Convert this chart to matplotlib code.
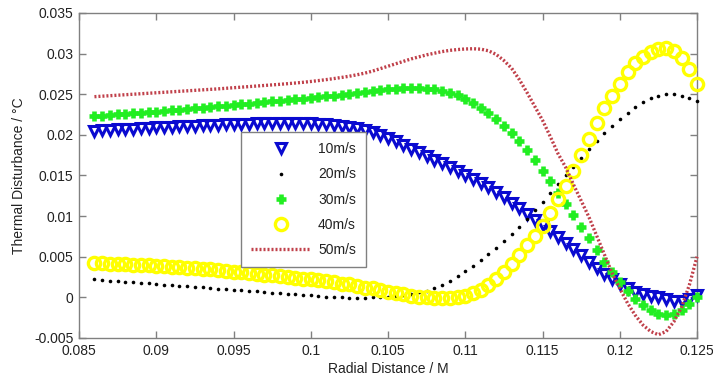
import numpy as np
import matplotlib
matplotlib.use("Agg")
import matplotlib.pyplot as plt

plt.rcParams['font.family'] = ['Liberation Sans', 'DejaVu Sans']

# radial distance samples (m)
radial = [0.0860 + 0.0005 * i for i in range(79)]

v10 = [0.02050, 0.02056, 0.02062, 0.02068, 0.02073, 0.02078, 0.02083, 0.02088, 0.02093, 0.02098,
       0.02102, 0.02107, 0.02111, 0.02115, 0.02119, 0.02123, 0.02127, 0.02130, 0.02133, 0.02136,
       0.02139, 0.02142, 0.02144, 0.02146, 0.02147, 0.02147, 0.02146, 0.02143, 0.02140, 0.02135,
       0.02130, 0.02123, 0.02115, 0.02100, 0.02085, 0.02060, 0.02030, 0.02000, 0.01965, 0.01920,
       0.01875, 0.01830, 0.01785, 0.01740, 0.01695, 0.01650, 0.01603, 0.01556, 0.01508, 0.01460,
       0.01410, 0.01360, 0.01300, 0.01235, 0.01165, 0.01095, 0.01025, 0.00955, 0.00885, 0.00815,
       0.00743, 0.00672, 0.00600, 0.00520, 0.00440, 0.00360, 0.00290, 0.00220, 0.00160, 0.00110,
       0.00070, 0.00040, 0.00020, 0.00000, -0.00020, -0.00040, -0.00040, -0.00020, 0.00030]

v20 = [0.00220, 0.00213, 0.00206, 0.00199, 0.00192, 0.00185, 0.00178, 0.00171, 0.00164, 0.00157,
       0.00150, 0.00143, 0.00136, 0.00129, 0.00122, 0.00115, 0.00108, 0.00101, 0.00094, 0.00087,
       0.00080, 0.00073, 0.00066, 0.00059, 0.00052, 0.00045, 0.00038, 0.00031, 0.00024, 0.00017,
       0.00010, 0.00004, -0.00001, -0.00004, -0.00005, -0.00004, -0.00001, 0.00004, 0.00010, 0.00020,
       0.00030, 0.00045, 0.00060, 0.00080, 0.00110, 0.00150, 0.00200, 0.00260, 0.00320, 0.00390,
       0.00460, 0.00530, 0.00610, 0.00690, 0.00780, 0.00870, 0.00970, 0.01070, 0.01170, 0.01280,
       0.01390, 0.01500, 0.01610, 0.01720, 0.01830, 0.01930, 0.02020, 0.02110, 0.02190, 0.02270,
       0.02340, 0.02400, 0.02450, 0.02480, 0.02500, 0.02500, 0.02480, 0.02450, 0.02420]

v30 = [0.02230, 0.02237, 0.02244, 0.02251, 0.02258, 0.02265, 0.02272, 0.02279, 0.02286, 0.02294,
       0.02302, 0.02310, 0.02318, 0.02326, 0.02334, 0.02342, 0.02350, 0.02358, 0.02366, 0.02375,
       0.02384, 0.02393, 0.02402, 0.02411, 0.02420, 0.02429, 0.02438, 0.02447, 0.02456, 0.02465,
       0.02474, 0.02483, 0.02492, 0.02501, 0.02512, 0.02530, 0.02545, 0.02555, 0.02565, 0.02570,
       0.02575, 0.02577, 0.02575, 0.02570, 0.02560, 0.02545, 0.02520, 0.02485, 0.02440, 0.02390,
       0.02330, 0.02265, 0.02190, 0.02110, 0.02020, 0.01920, 0.01810, 0.01690, 0.01560, 0.01430,
       0.01290, 0.01150, 0.01010, 0.00870, 0.00730, 0.00580, 0.00440, 0.00310, 0.00190, 0.00080,
       -0.00020, -0.00100, -0.00160, -0.00200, -0.00220, -0.00210, -0.00160, -0.00080, 0.00000]

v40 = [0.00420, 0.00417, 0.00414, 0.00410, 0.00406, 0.00402, 0.00398, 0.00393, 0.00388, 0.00383,
       0.00377, 0.00371, 0.00365, 0.00358, 0.00351, 0.00343, 0.00335, 0.00327, 0.00318, 0.00309,
       0.00300, 0.00290, 0.00280, 0.00270, 0.00260, 0.00250, 0.00240, 0.00230, 0.00220, 0.00210,
       0.00200, 0.00190, 0.00170, 0.00160, 0.00140, 0.00120, 0.00110, 0.00090, 0.00070, 0.00050,
       0.00040, 0.00020, 0.00010, 0.00000, -0.00010, -0.00010, -0.00010, 0.00000, 0.00020, 0.00050,
       0.00090, 0.00150, 0.00220, 0.00310, 0.00410, 0.00520, 0.00640, 0.00750, 0.00880, 0.01040,
       0.01210, 0.01370, 0.01550, 0.01750, 0.01950, 0.02150, 0.02330, 0.02480, 0.02630, 0.02770,
       0.02880, 0.02960, 0.03020, 0.03060, 0.03070, 0.03030, 0.02940, 0.02810, 0.02620]

v50 = [0.02470, 0.02476, 0.02482, 0.02488, 0.02494, 0.02500, 0.02506, 0.02512, 0.02518, 0.02524,
       0.02530, 0.02536, 0.02542, 0.02548, 0.02554, 0.02560, 0.02566, 0.02573, 0.02580, 0.02587,
       0.02594, 0.02601, 0.02608, 0.02615, 0.02622, 0.02630, 0.02638, 0.02647, 0.02657, 0.02668,
       0.02680, 0.02693, 0.02707, 0.02722, 0.02740, 0.02760, 0.02785, 0.02815, 0.02845, 0.02875,
       0.02905, 0.02935, 0.02960, 0.02985, 0.03005, 0.03025, 0.03040, 0.03050, 0.03057, 0.03060,
       0.03055, 0.03035, 0.02990, 0.02915, 0.02820, 0.02680, 0.02520, 0.02350, 0.02180, 0.01980,
       0.01770, 0.01600, 0.01390, 0.01190, 0.00990, 0.00760, 0.00530, 0.00300, 0.00110, -0.00070,
       -0.00220, -0.00340, -0.00420, -0.00460, -0.00420, -0.00300, -0.00120, 0.00150, 0.00500]

labels = ['10m/s', '20m/s', '30m/s', '40m/s', '50m/s']
xticks = [0.085, 0.09, 0.095, 0.1, 0.105, 0.11, 0.115, 0.12, 0.125]
xticklabels = ['0.085', '0.09', '0.095', '0.1', '0.105', '0.11', '0.115', '0.12', '0.125']
yticks = [-0.005, 0, 0.005, 0.01, 0.015, 0.02, 0.025, 0.03, 0.035]
yticklabels = ['-0.005', '0', '0.005', '0.01', '0.015', '0.02', '0.025', '0.03', '0.035']

fig = plt.figure(figsize=(7.13, 3.81), dpi=100)
ax = fig.add_axes([0.1108, 0.1129, 0.8668, 0.853])

ax.plot(radial, v10, linestyle='none', marker='v', markersize=7.5, markerfacecolor='none',
        markeredgecolor='#0a0ad0', markeredgewidth=2.2, label=labels[0], clip_on=False, zorder=3)
ax.plot(radial, v20, linestyle='none', marker='o', markersize=2.6, markerfacecolor='black',
        markeredgecolor='black', markeredgewidth=0, label=labels[1], clip_on=False, zorder=3)
ax.plot(radial, v30, linestyle='none', marker='+', markersize=7.5, markeredgecolor='#22ee22',
        markeredgewidth=3.3, label=labels[2], clip_on=False, zorder=3)
ax.plot(radial, v40, linestyle='none', marker='o', markersize=8.8, markerfacecolor='none',
        markeredgecolor='#ffff00', markeredgewidth=2.4, label=labels[3], clip_on=False, zorder=3)
ax.plot(radial, v50, linestyle=(0, (0.6, 0.6)), linewidth=2.4, color='#c0404a',
        label=labels[4], clip_on=False, zorder=3)

ax.set_xlim(0.085, 0.125)
ax.set_ylim(-0.005, 0.035)
ax.set_xticks(xticks)
ax.set_xticklabels(xticklabels)
ax.set_yticks(yticks)
ax.set_yticklabels(yticklabels)

for s in ax.spines.values():
    s.set_color('#808080')
    s.set_linewidth(1.0)
ax.tick_params(direction='in', length=5, width=1, color='#808080', top=True, right=True,
               labelsize=10, labelcolor='#222222', pad=4)

ax.set_xlabel('Radial Distance / M', fontsize=10, color='#222222', labelpad=3)
ax.set_ylabel('Thermal Disturbance / \u00b0C', fontsize=10, color='#222222', labelpad=6)

leg = ax.legend(loc='upper left', bbox_to_anchor=(0.262, 0.634), borderaxespad=0, numpoints=1,
                handlelength=4.2, handletextpad=0.6, labelspacing=0.8, borderpad=0.75,
                fontsize=10, fancybox=False, framealpha=1, edgecolor='#808080')
leg.get_frame().set_linewidth(1.0)
for t in leg.get_texts():
    t.set_color('#222222')

fig.savefig('out.png', dpi=100)
